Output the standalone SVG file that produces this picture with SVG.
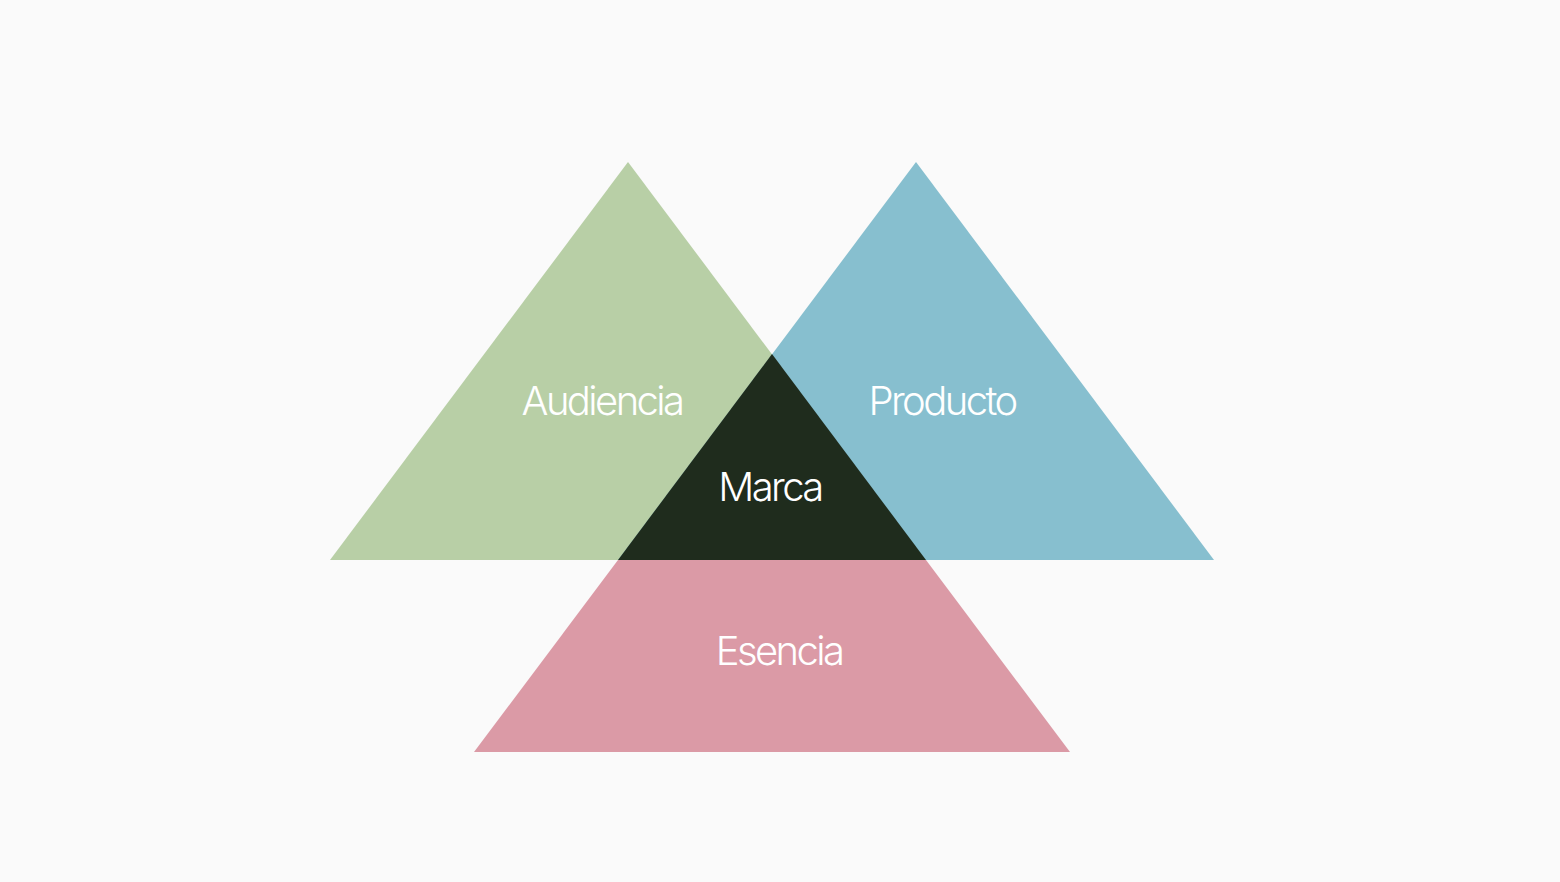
<svg xmlns="http://www.w3.org/2000/svg" width="1560" height="882" viewBox="0 0 1560 882">
<style>
.lbl{font-family:Inter,"Liberation Sans",sans-serif;font-size:40px;font-weight:300;fill:#ffffff;text-anchor:middle;letter-spacing:-2.6px}
</style>
<rect width="1560" height="882" fill="#fafafa"/>
<g id="audiencia">
<polygon points="628,162 926,560 330,560" fill="#b8cfa6"/>
<text class="lbl" x="602" y="415">Audiencia</text>
</g>
<g id="producto">
<polygon points="916,162 1214,560 618,560" fill="#87bfcf"/>
<text class="lbl" x="942" y="415">Producto</text>
</g>
<g id="esencia">
<polygon points="618,560 926,560 1070,752 474,752" fill="#db9aa6"/>
<text class="lbl" x="779" y="665">Esencia</text>
</g>
<g id="marca">
<polygon points="772,354 926,560 618,560" fill="#1f2c1d"/>
<text class="lbl" x="770" y="501">Marca</text>
</g>
<g id="connectors"></g>
</svg>
